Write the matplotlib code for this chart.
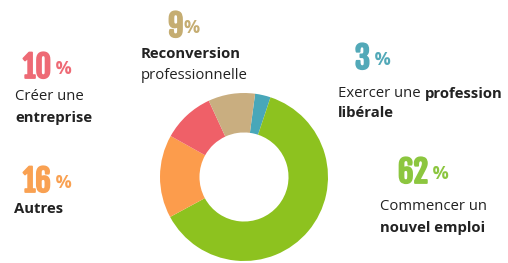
import matplotlib
matplotlib.use("Agg")
import matplotlib.pyplot as plt
import matplotlib.patheffects as pe
from matplotlib import font_manager

# data
labels = ["Exercer une profession libérale", "Commencer un nouvel emploi",
          "Autres", "Créer une entreprise", "Reconversion professionnelle"]
values = [3, 62, 16, 10, 9]
wedge_colors = ["#48a7b9", "#8dc21f", "#fc9c4c", "#ef6068", "#c9ae80"]
pct_colors = ["#52a9b8", "#8cc63f", "#f9a152", "#ee6a75", "#c5ad72"]

available = {f.name for f in font_manager.fontManager.ttflist}
num_font = next((f for f in ["Fjalla One", "Bebas Neue", "Oswald", "DejaVu Sans"]
                 if f in available))
body_font = "Open Sans" if "Open Sans" in available else "DejaVu Sans"

W, H = 508, 263
fig = plt.figure(figsize=(W / 100, H / 100), dpi=100)
fig.patch.set_facecolor("white")

# donut
cx, cy, r = 244, 177, 84
ax = fig.add_axes([(cx - r) / W, (H - cy - r) / H, 2 * r / W, 2 * r / H])
ax.pie(values, colors=wedge_colors, startangle=82.4, counterclock=False,
       radius=1, wedgeprops=dict(width=0.47, edgecolor="none"))
ax.set_xlim(-1, 1)
ax.set_ylim(-1, 1)
ax.set_aspect("equal")
ax.axis("off")


def px(x, y):
    return x / W, 1 - y / H


def pct(x, y, value, color, gap=" "):
    t = fig.text(*px(x, y), f"{value}", fontsize=22, fontweight="bold",
                 family=num_font, color=color, va="baseline", ha="left",
                 path_effects=[pe.withStroke(linewidth=1.3, foreground=color)])
    plt.annotate(gap + "%", xy=(1, 0.2), xycoords=t, fontsize=13, fontweight="bold",
                 family=body_font, color=color, va="bottom", ha="left")


def line(x, y, parts):
    prev = None
    for txt, bold in parts:
        kw = dict(fontsize=10.7, family=body_font, color="#222222",
                  fontweight="bold" if bold else "normal")
        if prev is None:
            prev = fig.text(*px(x, y), txt, va="baseline", ha="left", **kw)
        else:
            prev = plt.annotate(txt, xy=(1, 0), xycoords=prev, va="bottom",
                                ha="left", **kw)


idx = {lab: i for i, lab in enumerate(labels)}

i = idx["Reconversion professionnelle"]
pct(168, 37, values[i], pct_colors[i], gap="")
line(141, 58, [("Reconversion", True)])
line(141, 79, [("professionnelle", False)])

i = idx["Créer une entreprise"]
pct(23, 78, values[i], pct_colors[i])
line(15, 100, [("Créer une", False)])
line(15, 122, [("entreprise", True)])

i = idx["Exercer une profession libérale"]
pct(355, 69, values[i], pct_colors[i])
line(338, 97, [("Exercer une ", False), ("profession", True)])
line(338, 117, [("libérale", True)])

i = idx["Autres"]
pct(23, 192, values[i], pct_colors[i])
line(14, 213, [("Autres", True)])

i = idx["Commencer un nouvel emploi"]
pct(398, 183, values[i], pct_colors[i])
line(380, 210, [("Commencer un", False)])
line(380, 232, [("nouvel emploi", True)])

fig.savefig("out.png", dpi=100, facecolor="white")
